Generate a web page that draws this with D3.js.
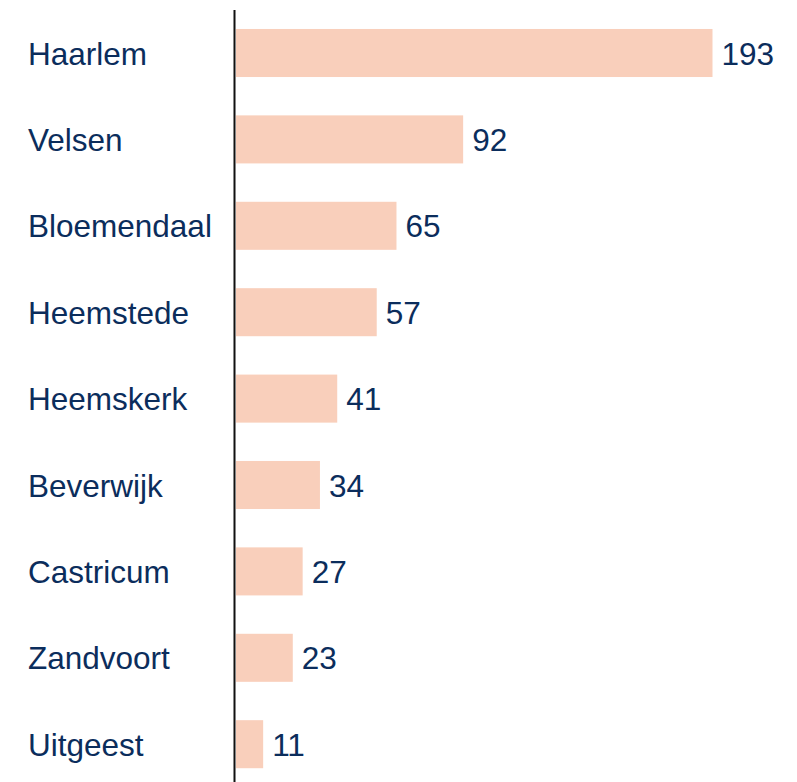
<!DOCTYPE html>
<html>
<head>
<meta charset="utf-8">
<script src="https://cdn.jsdelivr.net/npm/d3@7"></script>
<style>
  body { margin: 0; background: #fff; }
</style>
</head>
<body>
<div id="chart"></div>
<script>
// data
var places = ["Haarlem", "Velsen", "Bloemendaal", "Heemstede", "Heemskerk", "Beverwijk", "Castricum", "Zandvoort", "Uitgeest"];
var counts = [193, 92, 65, 57, 41, 34, 27, 23, 11];

var W = 797, H = 782;
var x0 = 235;
var font = "Arial, 'Liberation Sans', Helvetica, sans-serif";

var svg = d3.select("#chart")
  .append("svg")
    .attr("width", W)
    .attr("height", H);

var data = places.map(function(p, i) { return {name: p, value: counts[i]}; });

// scales
var x = d3.scaleLinear()
  .domain([0, 193])
  .range([x0 + 1, 712.5]);

var y = d3.scaleBand()
  .domain(places)
  .range([9.8, 9.8 + 86.4 * 9])
  .paddingInner(0.444)
  .paddingOuter(0.222);

// bars
svg.append("g")
  .selectAll("rect")
  .data(data)
  .enter()
  .append("rect")
    .attr("x", x(0))
    .attr("y", function(d) { return y(d.name); })
    .attr("width", function(d) { return x(d.value) - x(0); })
    .attr("height", y.bandwidth())
    .attr("fill", "#f9cfbb");

// category labels
svg.append("g")
  .selectAll("text")
  .data(data)
  .enter()
  .append("text")
    .attr("x", 28)
    .attr("y", function(d) { return y(d.name) + y.bandwidth() / 2 + 11.5; })
    .attr("font-family", font)
    .attr("font-size", "31.5px")
    .attr("fill", "#0b2d5c")
    .text(function(d) { return d.name; });

// value labels
svg.append("g")
  .selectAll("text")
  .data(data)
  .enter()
  .append("text")
    .attr("x", function(d) { return x(d.value) + 9; })
    .attr("y", function(d) { return y(d.name) + y.bandwidth() / 2 + 11.5; })
    .attr("font-family", font)
    .attr("font-size", "31.5px")
    .attr("fill", "#0b2d5c")
    .text(function(d) { return d.value; });

// vertical axis line
svg.append("line")
  .attr("x1", x0 - 0.5)
  .attr("x2", x0 - 0.5)
  .attr("y1", 10)
  .attr("y2", H)
  .attr("stroke", "#111")
  .attr("stroke-width", 2);
</script>
</body>
</html>
